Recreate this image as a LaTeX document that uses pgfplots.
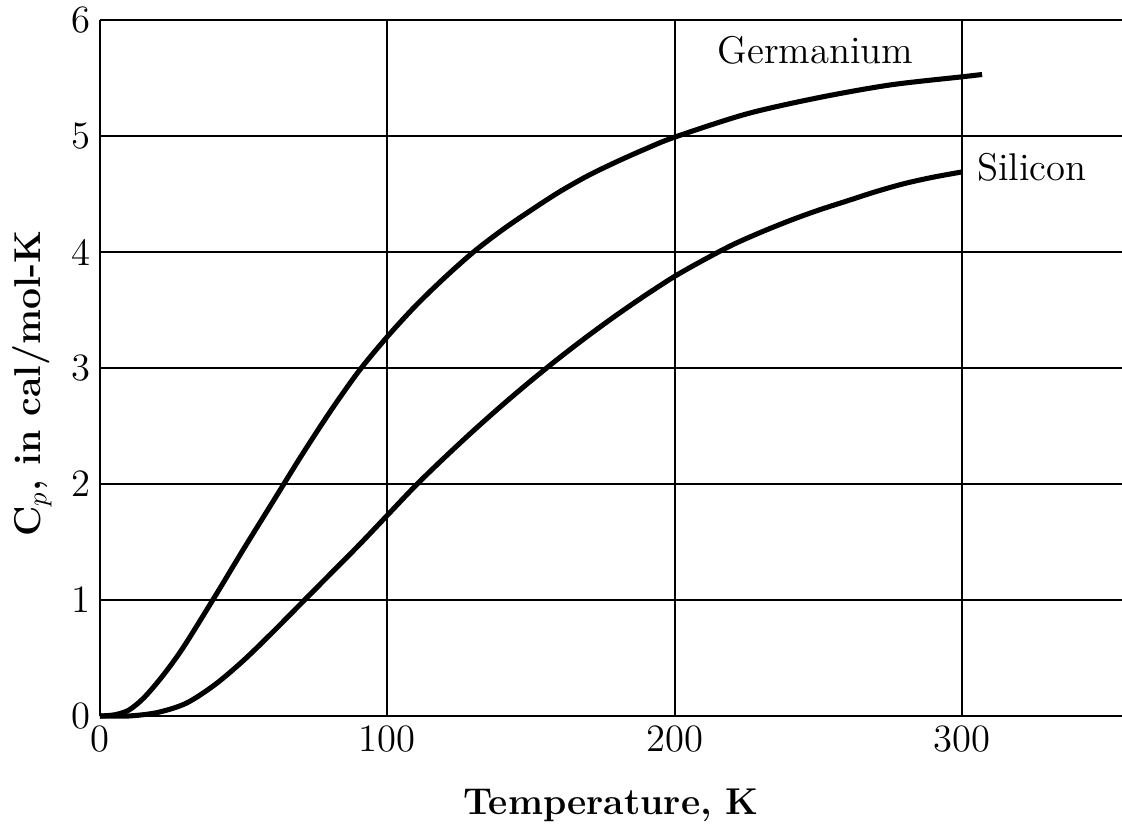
\documentclass[border=0pt]{standalone}
\usepackage{pgfplots}
\pgfplotsset{compat=1.18}
\begin{document}
\begin{tikzpicture}
\useasboundingbox (-37.5pt,-43.9pt) rectangle (383.25pt,268.5pt);
\begin{axis}[
  scale only axis,
  width=383.25pt, height=261pt,
  xmin=0, xmax=355.7, ymin=0, ymax=6,
  axis lines=left,
  axis line style={-, line width=0.9pt},
  xtick={0,100,200,300},
  ytick={0,1,2,3,4,5,6},
  major tick length=0pt,
  grid=major,
  grid style={black, line width=0.65pt},
  tick label style={font=\fontsize{14.5}{16}\selectfont},
  /pgf/number format/assume math mode=true,
  every axis y label/.style={at={(axis description cs:-0.0665,0.478)}, rotate=90, anchor=center},
  every axis x label/.style={at={(axis description cs:0.5,-0.142)}, anchor=base},
  xlabel={\fontsize{14}{16}\selectfont\bfseries Temperature, K},
  ylabel={\fontsize{14}{16}\selectfont\bfseries C$_p$, in cal/mol-K},
  clip=false,
]
\addplot[black, line width=1.9pt, smooth, tension=0.5] coordinates {
(0,0) (5,0.01) (10,0.05) (15,0.15) (20,0.29) (25,0.45) (30,0.63) (40,1.03)
(50,1.44) (60,1.84) (70,2.24) (80,2.62) (90,2.97) (100,3.27) (110,3.54)
(120,3.78) (130,4.0) (140,4.19) (150,4.36) (160,4.52) (170,4.66) (180,4.78)
(190,4.89) (200,4.99) (225,5.19) (250,5.33) (275,5.44) (300,5.51) (307,5.53)
};
\addplot[black, line width=1.9pt, smooth, tension=0.5] coordinates {
(0,0) (10,0.0) (20,0.03) (30,0.11) (40,0.27) (50,0.48) (60,0.72) (70,0.97)
(80,1.22) (90,1.47) (100,1.73) (110,1.99) (120,2.23) (130,2.46) (140,2.68)
(150,2.89) (160,3.09) (170,3.28) (180,3.46) (190,3.63) (200,3.79) (210,3.93)
(220,4.06) (230,4.17) (240,4.27) (250,4.36) (260,4.44) (270,4.52) (280,4.59)
(290,4.645) (300,4.69)
};
\node[font=\fontsize{14.5}{16}\selectfont] at (axis cs:249,5.74) {Germanium};
\node[font=\fontsize{14.5}{16}\selectfont] at (axis cs:324.4,4.73) {Silicon};
\end{axis}
\end{tikzpicture}
\end{document}
